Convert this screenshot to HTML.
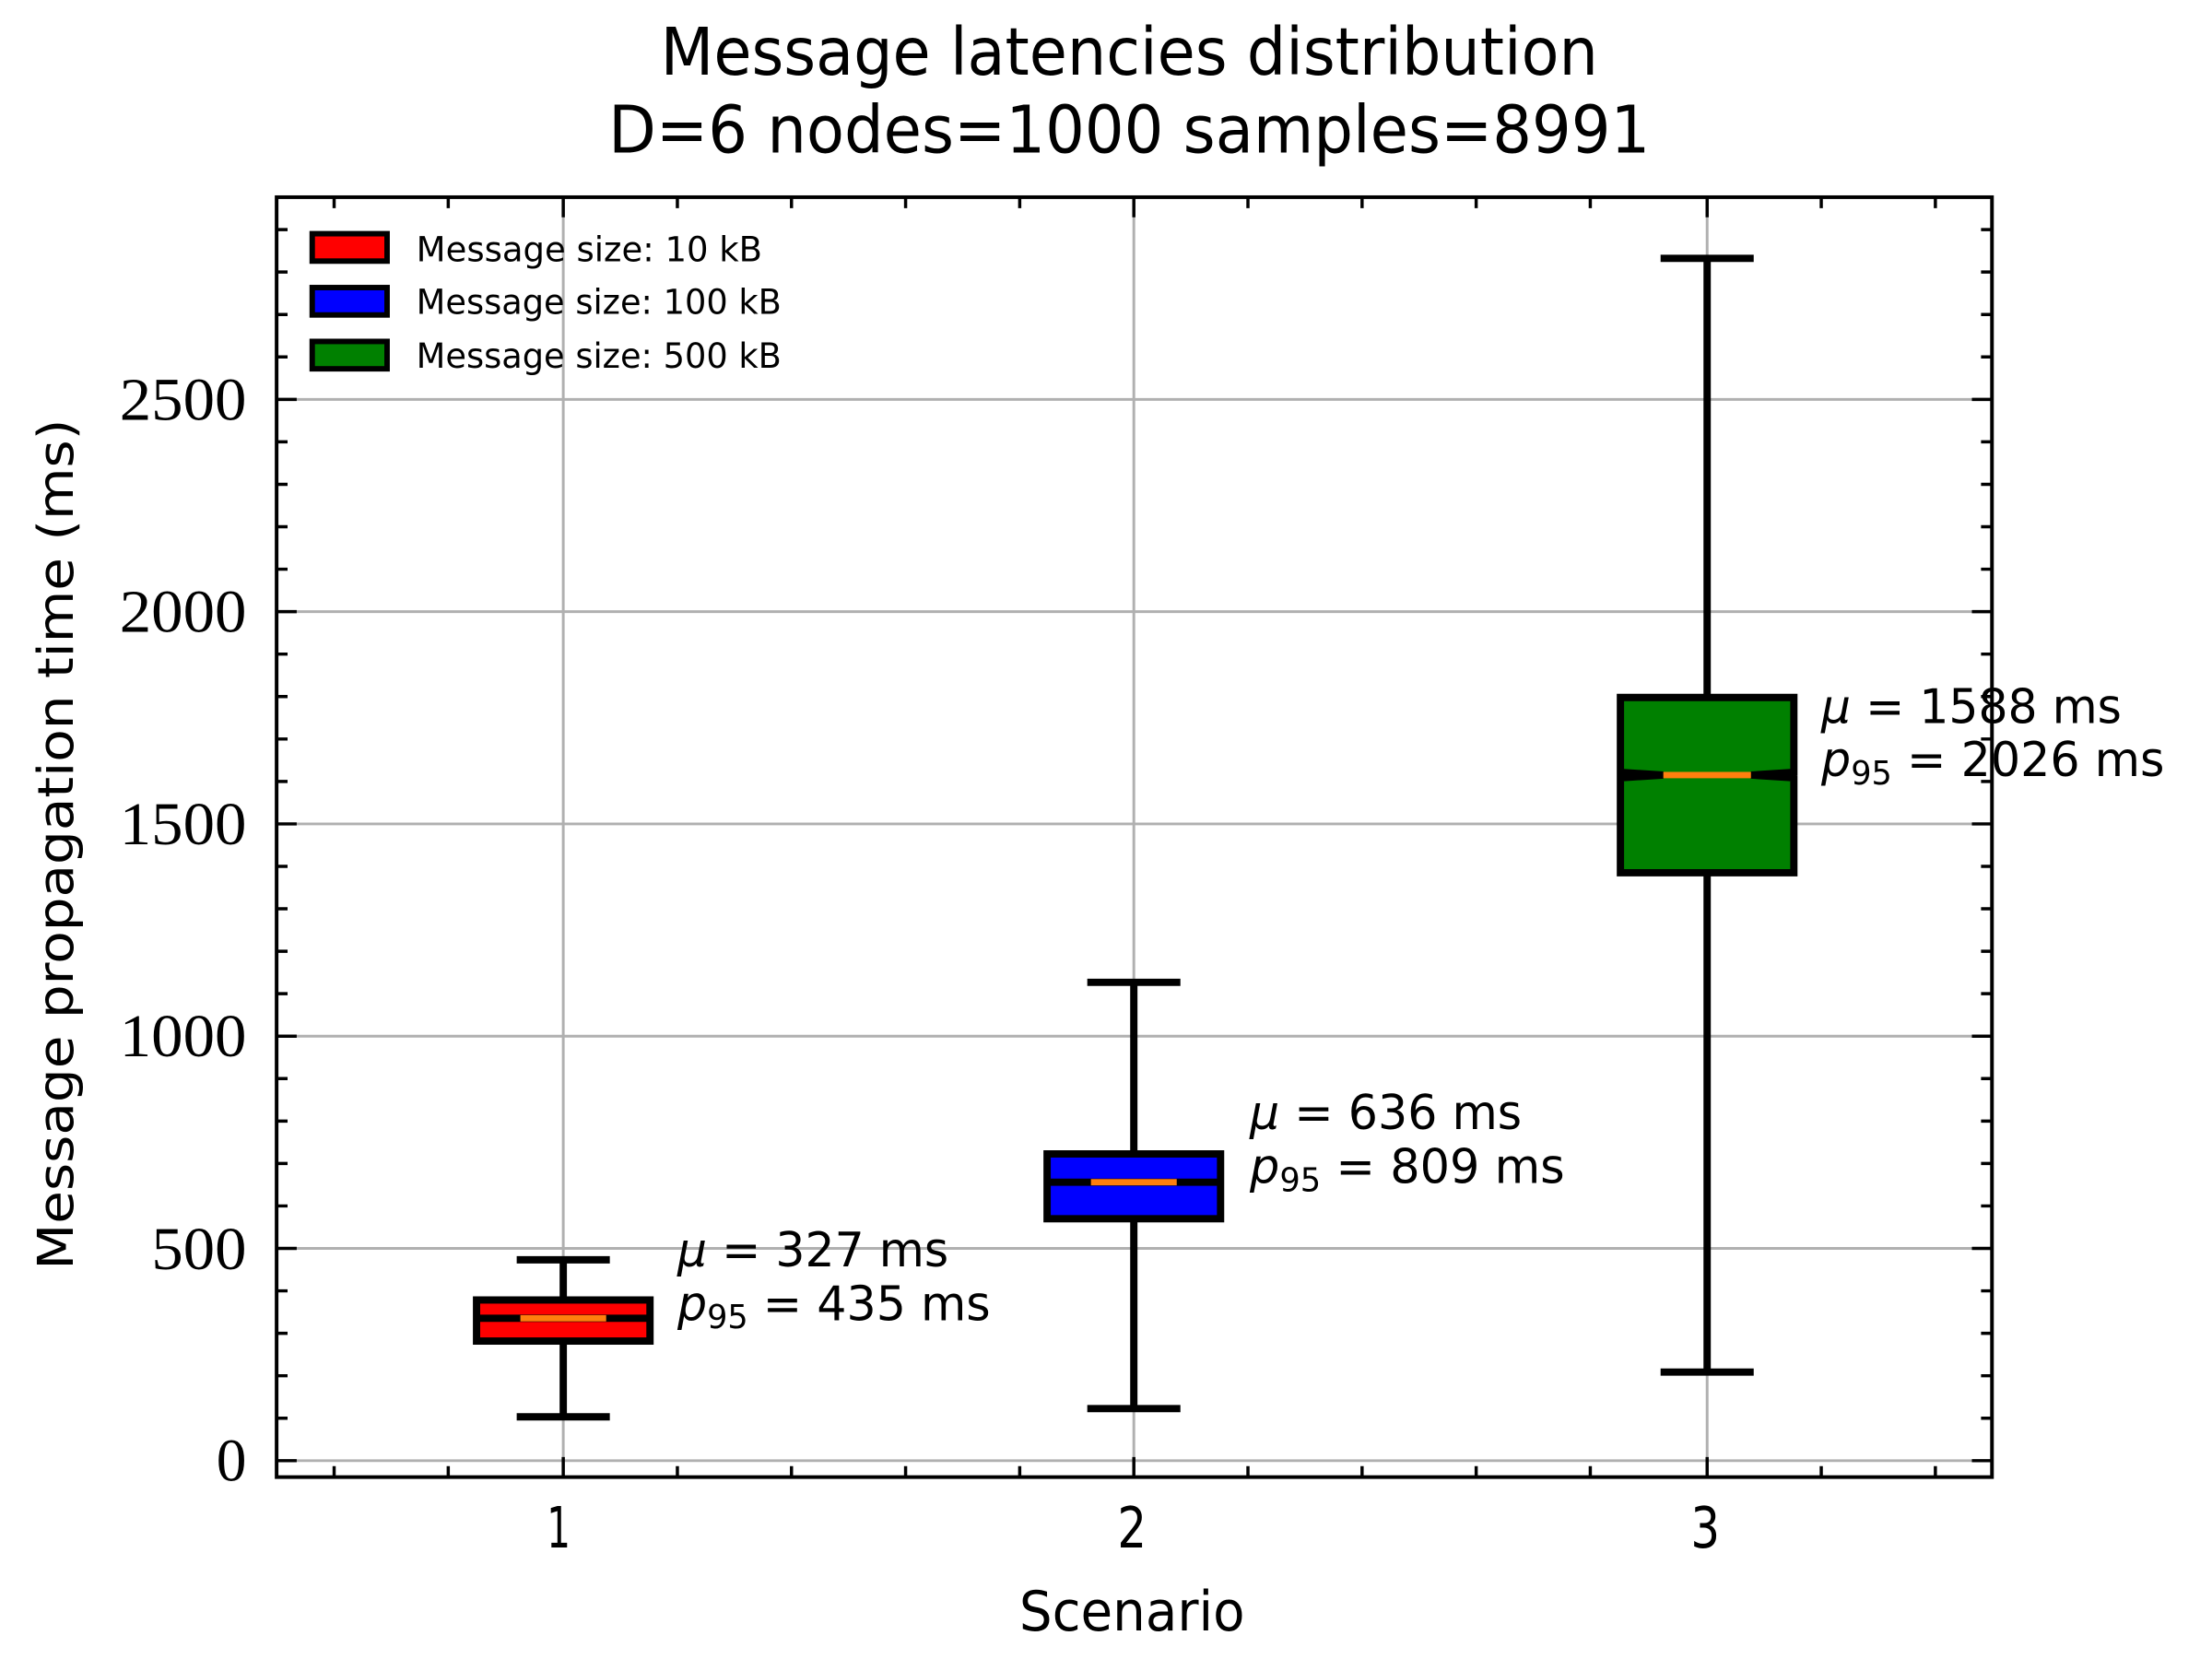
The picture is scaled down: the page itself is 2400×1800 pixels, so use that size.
<!DOCTYPE html>
<html><head><meta charset="utf-8"><style>
html,body{margin:0;padding:0;background:#fff;}
svg{display:block;}
.s{font-family:"DejaVu Sans","Liberation Sans",sans-serif;}
.r{font-family:"Liberation Serif",serif;}
</style></head><body>
<svg width="2400" height="1800" viewBox="0 0 2400 1800" xmlns="http://www.w3.org/2000/svg">
<rect width="2400" height="1800" fill="#fff"/>
<g transform="scale(0.9905)">
<!-- grid -->
<g stroke="#b0b0b0" stroke-width="3">
<line x1="617" y1="216" x2="617" y2="1618"/>
<line x1="1242" y1="216" x2="1242" y2="1618"/>
<line x1="1870" y1="216" x2="1870" y2="1618"/>
<line x1="303" y1="1600" x2="2182" y2="1600"/>
<line x1="303" y1="1367.5" x2="2182" y2="1367.5"/>
<line x1="303" y1="1135" x2="2182" y2="1135"/>
<line x1="303" y1="902.5" x2="2182" y2="902.5"/>
<line x1="303" y1="670" x2="2182" y2="670"/>
<line x1="303" y1="437.5" x2="2182" y2="437.5"/>
</g>
<!-- ticks -->
<g stroke="#000" stroke-width="3.5">
<path d="M617 1618v-22M1242 1618v-22M1870 1618v-22M617 216v22M1242 216v22M1870 216v22"/>
<path d="M366 1618v-12M491 1618v-12M742 1618v-12M867 1618v-12M992 1618v-12M1117 1618v-12M1367 1618v-12M1492 1618v-12M1617 1618v-12M1742 1618v-12M1995 1618v-12M2120 1618v-12
M366 216v12M491 216v12M742 216v12M867 216v12M992 216v12M1117 216v12M1367 216v12M1492 216v12M1617 216v12M1742 216v12M1995 216v12M2120 216v12"/>
<path d="M303 1600h22M303 1367.5h22M303 1135h22M303 902.5h22M303 670h22M303 437.5h22M2182 1600h-22M2182 1367.5h-22M2182 1135h-22M2182 902.5h-22M2182 670h-22M2182 437.5h-22"/>
<path d="M303 1553.5h12M303 1507h12M303 1460.5h12M303 1414h12M303 1321h12M303 1274.5h12M303 1228h12M303 1181.5h12M303 1088.5h12M303 1042h12M303 995.5h12M303 949h12M303 856h12M303 809.5h12M303 763h12M303 716.5h12M303 623.5h12M303 577h12M303 530.5h12M303 484h12M303 391h12M303 344.5h12M303 298h12M303 251.5h12
M2182 1553.5h-12M2182 1507h-12M2182 1460.5h-12M2182 1414h-12M2182 1321h-12M2182 1274.5h-12M2182 1228h-12M2182 1181.5h-12M2182 1088.5h-12M2182 1042h-12M2182 995.5h-12M2182 949h-12M2182 856h-12M2182 809.5h-12M2182 763h-12M2182 716.5h-12M2182 623.5h-12M2182 577h-12M2182 530.5h-12M2182 484h-12M2182 391h-12M2182 344.5h-12M2182 298h-12M2182 251.5h-12"/>
</g>
<!-- boxes -->
<g stroke="#000" stroke-width="8" fill="none">
<line x1="617" y1="1380" x2="617" y2="1424"/>
<line x1="617" y1="1469" x2="617" y2="1552"/>
<line x1="566" y1="1380" x2="668" y2="1380"/>
<line x1="566" y1="1552" x2="668" y2="1552"/>
<rect x="522" y="1424" width="190" height="45" fill="#ff0000"/>
<line x1="522" y1="1444" x2="712" y2="1444"/>
<line x1="1242" y1="1076" x2="1242" y2="1264"/>
<line x1="1242" y1="1335" x2="1242" y2="1543"/>
<line x1="1191" y1="1076" x2="1293" y2="1076"/>
<line x1="1191" y1="1543" x2="1293" y2="1543"/>
<rect x="1147" y="1264" width="190" height="71" fill="#0000ff"/>
<line x1="1147" y1="1295" x2="1337" y2="1295"/>
<line x1="1870" y1="283" x2="1870" y2="764"/>
<line x1="1870" y1="956" x2="1870" y2="1503"/>
<line x1="1819" y1="283" x2="1921" y2="283"/>
<line x1="1819" y1="1503" x2="1921" y2="1503"/>
<polygon points="1775,764 1965,764 1965,846 1918,849 1965,852 1965,956 1775,956 1775,852 1822,849 1775,846" fill="#008000"/>
</g>
<g stroke="#ff7f0e" stroke-width="7">
<line x1="570" y1="1444" x2="664" y2="1444"/>
<line x1="1195" y1="1295" x2="1289" y2="1295"/>
<line x1="1822" y1="849" x2="1918" y2="849"/>
</g>
<rect x="303" y="216" width="1879" height="1402" fill="none" stroke="#000" stroke-width="4"/>
<!-- annotations -->
<g class="s" font-size="52" fill="#000" lengthAdjust="spacingAndGlyphs">
<text x="742" y="1387" textLength="297" lengthAdjust="spacingAndGlyphs"><tspan font-style="italic">μ</tspan> =  327 ms</text>
<text x="742" y="1446" textLength="343" lengthAdjust="spacingAndGlyphs"><tspan font-style="italic">p</tspan><tspan font-size="36" dy="9">95</tspan><tspan dy="-9"> =  435 ms</tspan></text>
<text x="1369" y="1237" textLength="298" lengthAdjust="spacingAndGlyphs"><tspan font-style="italic">μ</tspan> =  636 ms</text>
<text x="1369" y="1296" textLength="345" lengthAdjust="spacingAndGlyphs"><tspan font-style="italic">p</tspan><tspan font-size="36" dy="9">95</tspan><tspan dy="-9"> =  809 ms</tspan></text>
<text x="1995" y="792" textLength="329" lengthAdjust="spacingAndGlyphs"><tspan font-style="italic">μ</tspan> =  1588 ms</text>
<text x="1995" y="850" textLength="376" lengthAdjust="spacingAndGlyphs"><tspan font-style="italic">p</tspan><tspan font-size="36" dy="9">95</tspan><tspan dy="-9"> =  2026 ms</tspan></text>
</g>
<!-- legend -->
<g stroke="#000" stroke-width="6">
<rect x="342" y="256" width="82" height="30" fill="#ff0000"/>
<rect x="342" y="315" width="82" height="30" fill="#0000ff"/>
<rect x="342" y="374" width="82" height="30" fill="#008000"/>
</g>
<g class="s" font-size="38" fill="#000">
<text x="456" y="286" textLength="379" lengthAdjust="spacingAndGlyphs">Message size:  10 kB</text>
<text x="456" y="344" textLength="400" lengthAdjust="spacingAndGlyphs">Message size:  100 kB</text>
<text x="456" y="403" textLength="400" lengthAdjust="spacingAndGlyphs">Message size:  500 kB</text>
</g>
<!-- y tick labels -->
<g class="r" font-size="66" fill="#000" text-anchor="end">
<text x="270" y="1622">0</text>
<text x="270" y="1390" textLength="104" lengthAdjust="spacingAndGlyphs">500</text>
<text x="270" y="1157" textLength="139" lengthAdjust="spacingAndGlyphs">1000</text>
<text x="270" y="925" textLength="139" lengthAdjust="spacingAndGlyphs">1500</text>
<text x="270" y="692" textLength="139" lengthAdjust="spacingAndGlyphs">2000</text>
<text x="270" y="460" textLength="139" lengthAdjust="spacingAndGlyphs">2500</text>
</g>
<g class="s" font-size="62" fill="#000" text-anchor="middle">
<text x="612" y="1695" textLength="26" lengthAdjust="spacingAndGlyphs">1</text>
<text x="1240" y="1695" textLength="32" lengthAdjust="spacingAndGlyphs">2</text>
<text x="1868" y="1695" textLength="32" lengthAdjust="spacingAndGlyphs">3</text>
</g>
<text class="s" x="1240" y="1786" font-size="60" text-anchor="middle" textLength="247" lengthAdjust="spacingAndGlyphs">Scenario</text>
<text class="s" font-size="54" text-anchor="middle" transform="translate(80,925) rotate(-90)" textLength="932" lengthAdjust="spacingAndGlyphs">Message propagation time (ms)</text>
<text class="s" x="1237" y="82" font-size="72" text-anchor="middle" textLength="1027" lengthAdjust="spacingAndGlyphs">Message latencies distribution</text>
<text class="s" x="1237" y="167" font-size="72" text-anchor="middle" textLength="1141" lengthAdjust="spacingAndGlyphs">D=6 nodes=1000 samples=8991</text>
</g>
</svg>
</body></html>
